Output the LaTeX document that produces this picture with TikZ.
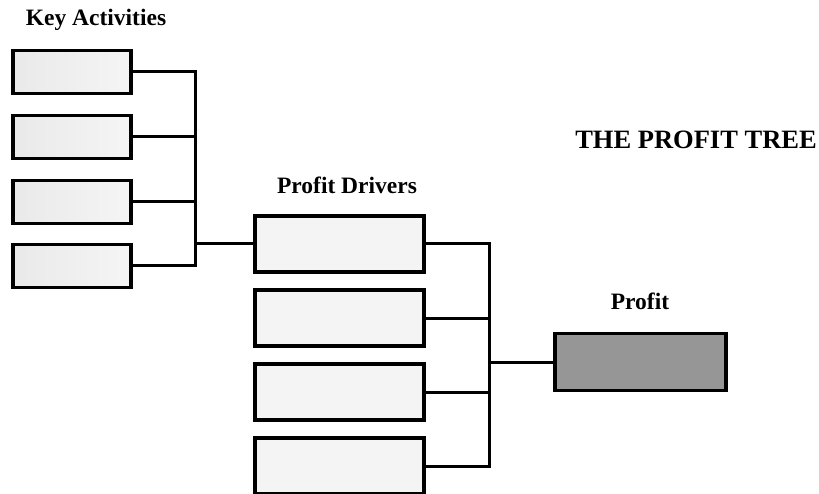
\documentclass[tikz,border=0pt]{standalone}
\usepackage{fontspec}
\setmainfont{Liberation Serif}
\usetikzlibrary{positioning, calc}
\definecolor{profitgray}{HTML}{969696}

\begin{document}
\begin{tikzpicture}[
    x=1pt, y=-1pt,
    font=\bfseries\fontsize{23.5}{28}\selectfont,
    actbox/.style={draw, line width=3.5pt, minimum width=118pt, minimum height=43pt,
                   inner sep=0pt, outer sep=0pt, left color=gray!17, right color=gray!8},
    drvbox/.style={draw, line width=3.5pt, minimum width=169pt, minimum height=56pt,
                   inner sep=0pt, outer sep=0pt, fill=gray!9},
    resbox/.style={draw, line width=3.5pt, minimum width=171pt, minimum height=57pt,
                   inner sep=0pt, outer sep=0pt, fill=profitgray},
    link/.style={line width=3pt, line cap=rect},
    heading/.style={inner sep=0pt},
  ]
  \useasboundingbox (0,0) rectangle (819,494);
  % key activities
  \node[heading] (kahead) at (96,20) {Key Activities};
  \foreach \i/\y in {1/72, 2/137, 3/202, 4/266}
    \node[actbox] (ka\i) at (72,\y) {};
  % profit drivers
  \node[heading] (pdhead) at (347,185) {Profit Drivers};
  \foreach \i/\y in {1/244, 2/318, 3/392, 4/466}
    \node[drvbox] (pd\i) at (339.5,\y) {};
  % profit
  \node[heading] (prhead) at (640,301) {Profit};
  \node[resbox] (profit) at (640.5,362) {};
  \node[heading, font=\bfseries\fontsize{26.5}{30}\selectfont] (title) at (696,140) {THE PROFIT TREE};
  % connectors
  \coordinate (kabus) at (195,0);
  \coordinate (pdbus) at (489,0);
  \foreach \i in {1,...,4} {
    \draw[link] (ka\i.east) -- (ka\i.east -| kabus);
    \draw[link] (pd\i.east) -- (pd\i.east -| pdbus);
  }
  \draw[link] (kabus |- ka1.east) -- (kabus |- ka4.east);
  \draw[link] (kabus |- pd1.west) -- (pd1.west);
  \draw[link] (pdbus |- pd1.east) -- (pdbus |- pd4.east);
  \draw[link] (pdbus |- profit.west) -- (profit.west);
\end{tikzpicture}
\end{document}
